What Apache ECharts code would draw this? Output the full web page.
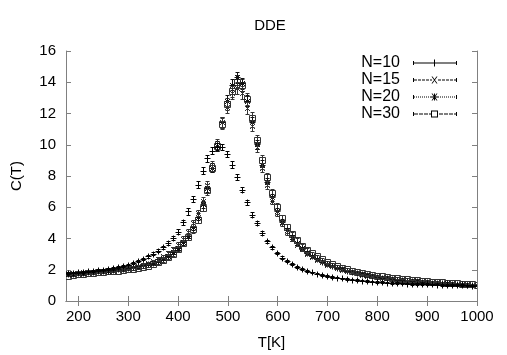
<!DOCTYPE html>
<html>
<head>
<meta charset="utf-8">
<title>DDE</title>
<script src="https://cdn.jsdelivr.net/npm/echarts@6/dist/echarts.min.js"></script>
<style>html,body{margin:0;padding:0;background:#fff;}</style>
</head>
<body>
<div id="main" style="width:507px;height:355px;"></div>
<script>
// temperatures (K), every 10 K
var temps = [180,190,200,210,220,230,240,250,260,270,280,290,300,310,320,330,340,350,360,370,
  380,390,400,410,420,430,440,450,460,470,480,490,500,510,520,530,540,550,560,570,
  580,590,600,610,620,630,640,650,660,670,680,690,700,710,720,730,740,750,760,770,
  780,790,800,810,820,830,840,850,860,870,880,890,900,910,920,930,940,950,960,970,
  980,990,1000];

// specific heat C(T) per system size
var c10 = [1.75,1.78,1.8,1.83,1.86,1.9,1.94,1.98,2.03,2.08,2.14,2.21,2.3,2.4,2.52,2.66,2.82,3.0,3.2,3.42,
  3.68,4.0,4.4,5.0,5.7,6.5,7.4,8.3,9.1,9.6,9.85,9.8,9.4,8.7,7.9,7.1,6.3,5.5,4.95,4.3,
  3.8,3.4,3.05,2.75,2.52,2.32,2.16,2.02,1.9,1.8,1.72,1.65,1.58,1.52,1.47,1.42,1.38,1.34,1.3,1.27,
  1.24,1.21,1.19,1.17,1.15,1.13,1.11,1.1,1.08,1.07,1.06,1.05,1.04,1.03,1.02,1.01,1.0,0.99,0.98,0.98,
  0.97,0.96,0.95];
var c15 = [1.75,1.77,1.79,1.81,1.83,1.85,1.88,1.9,1.93,1.96,2.0,2.04,2.09,2.15,2.22,2.3,2.4,2.52,2.66,2.83,
  3.03,3.28,3.58,3.95,4.4,4.95,5.6,6.4,7.4,8.6,10.0,11.4,12.4,13.3,13.6,13.3,12.3,11.2,9.8,8.5,
  7.4,6.4,5.6,4.95,4.4,3.95,3.58,3.27,3.0,2.78,2.6,2.44,2.3,2.18,2.07,1.97,1.88,1.8,1.73,1.66,
  1.6,1.55,1.5,1.45,1.41,1.37,1.33,1.3,1.27,1.24,1.21,1.19,1.16,1.14,1.12,1.1,1.08,1.06,1.05,1.03,
  1.02,1.0,0.99];
var c20 = [1.7,1.72,1.75,1.78,1.8,1.83,1.86,1.89,1.92,1.95,1.99,2.03,2.07,2.12,2.18,2.25,2.33,2.43,2.55,2.7,
  2.88,3.1,3.38,3.72,4.15,4.7,5.35,6.15,7.2,8.5,9.9,11.4,12.8,13.8,14.3,13.9,12.8,11.4,10.0,8.7,
  7.6,6.6,5.75,5.05,4.5,4.05,3.65,3.33,3.06,2.83,2.64,2.47,2.33,2.2,2.09,1.99,1.9,1.82,1.75,1.68,
  1.62,1.56,1.51,1.46,1.42,1.38,1.34,1.31,1.28,1.25,1.22,1.19,1.17,1.15,1.13,1.11,1.09,1.07,1.05,1.04,
  1.02,1.01,0.99];
var c30 = [1.6,1.64,1.68,1.71,1.74,1.77,1.8,1.83,1.86,1.88,1.91,1.95,1.99,2.04,2.09,2.16,2.24,2.33,2.44,2.58,
  2.76,3.0,3.3,3.65,4.05,4.55,5.15,5.95,7.05,8.5,9.9,11.3,12.6,13.4,14.0,13.8,12.9,11.7,10.3,9.0,
  7.9,6.9,6.0,5.3,4.7,4.25,3.85,3.52,3.25,3.02,2.82,2.64,2.48,2.34,2.22,2.11,2.01,1.92,1.84,1.77,
  1.71,1.65,1.6,1.55,1.51,1.47,1.43,1.4,1.36,1.33,1.3,1.27,1.24,1.21,1.19,1.16,1.14,1.12,1.09,1.07,
  1.05,1.03,1.01];

// error bars
var e10 = [0.05,0.05,0.05,0.05,0.05,0.05,0.05,0.05,0.05,0.05,0.05,0.05,0.05,0.05,0.06,0.06,0.07,0.08,0.08,0.1,
  0.1,0.12,0.15,0.18,0.2,0.2,0.22,0.22,0.22,0.2,0.2,0.2,0.2,0.2,0.18,0.18,0.16,0.15,0.14,0.12,
  0.1,0.1,0.08,0.07,0.06,0.06,0.05,0.05,0.05,0.05,0.05,0.05,0.05,0.05,0.05,0.05,0.05,0.05,0.05,0.05,
  0.05,0.05,0.05,0.05,0.05,0.05,0.05,0.05,0.05,0.05,0.05,0.05,0.05,0.05,0.05,0.05,0.05,0.05,0.05,0.05,
  0.05,0.05,0.05];
var e15 = [0.05,0.05,0.05,0.05,0.05,0.05,0.05,0.05,0.05,0.05,0.05,0.05,0.06,0.06,0.07,0.07,0.08,0.08,0.1,0.1,
  0.12,0.12,0.14,0.15,0.18,0.2,0.22,0.25,0.28,0.3,0.32,0.35,0.38,0.4,0.4,0.4,0.38,0.35,0.32,0.3,
  0.28,0.25,0.22,0.2,0.18,0.15,0.12,0.1,0.1,0.08,0.08,0.07,0.07,0.06,0.06,0.05,0.05,0.05,0.05,0.05,
  0.05,0.05,0.05,0.05,0.05,0.05,0.05,0.05,0.05,0.05,0.05,0.05,0.05,0.05,0.05,0.05,0.05,0.05,0.05,0.05,
  0.05,0.05,0.05];
var e20 = [0.05,0.05,0.05,0.05,0.05,0.05,0.05,0.05,0.05,0.05,0.05,0.05,0.06,0.06,0.07,0.07,0.08,0.08,0.1,0.1,
  0.12,0.12,0.14,0.15,0.18,0.2,0.22,0.25,0.28,0.3,0.32,0.35,0.35,0.35,0.35,0.35,0.35,0.32,0.3,0.28,
  0.25,0.22,0.2,0.18,0.15,0.12,0.1,0.1,0.08,0.08,0.07,0.07,0.06,0.06,0.05,0.05,0.05,0.05,0.05,0.05,
  0.05,0.05,0.05,0.05,0.05,0.05,0.05,0.05,0.05,0.05,0.05,0.05,0.05,0.05,0.05,0.05,0.05,0.05,0.05,0.05,
  0.05,0.05,0.05];
var e30 = [0.05,0.05,0.05,0.05,0.05,0.05,0.05,0.05,0.05,0.05,0.05,0.05,0.06,0.06,0.07,0.07,0.08,0.08,0.1,0.1,
  0.12,0.12,0.14,0.15,0.18,0.2,0.22,0.25,0.28,0.3,0.32,0.35,0.38,0.4,0.42,0.4,0.38,0.35,0.32,0.3,
  0.28,0.25,0.22,0.2,0.18,0.15,0.12,0.1,0.1,0.08,0.08,0.07,0.07,0.06,0.06,0.05,0.05,0.05,0.05,0.05,
  0.05,0.05,0.05,0.05,0.05,0.05,0.05,0.05,0.05,0.05,0.05,0.05,0.05,0.05,0.05,0.05,0.05,0.05,0.05,0.05,
  0.05,0.05,0.05];

var names = ['N=10', 'N=15', 'N=20', 'N=30'];
var xTicks = [200, 300, 400, 500, 600, 700, 800, 900, 1000];

var FONT = '"Liberation Sans", Arial, Helvetica, sans-serif';
var GREY = '#808080';

var myChart = echarts.init(document.getElementById('main'));

function rows(c, e) {
  return temps.map(function (t, i) { return [t, c[i], e[i]]; });
}

// snap to pixel centre so 1px strokes stay sharp
function px(v) { return Math.round(v - 0.5) + 0.5; }

// marker glyphs drawn as short lines (gnuplot style)
function glyph(kind, x, y, col) {
  var s = { stroke: col, lineWidth: 1, fill: null };
  var out = [];
  function ln(x1, y1, x2, y2) {
    out.push({ type: 'line', shape: { x1: x1, y1: y1, x2: x2, y2: y2 }, style: s });
  }
  if (kind === 'plus' || kind === 'star') { ln(x - 3, y, x + 3, y); ln(x, y - 3, x, y + 3); }
  if (kind === 'cross' || kind === 'star') { ln(x - 2.5, y - 2.5, x + 2.5, y + 2.5); ln(x - 2.5, y + 2.5, x + 2.5, y - 2.5); }
  if (kind === 'square') {
    out.push({ type: 'rect', shape: { x: x - 3, y: y - 3, width: 6, height: 6 }, style: s });
  }
  return out;
}

function makeRender(kind, col) {
  return function (params, api) {
    var t = api.value(0), c = api.value(1), e = api.value(2);
    var p = api.coord([t, c]);
    var hi = api.coord([t, c + e]);
    var lo = api.coord([t, c - e]);
    var x = px(p[0]), y = px(p[1]), yh = px(hi[1]), yl = px(lo[1]);
    var s = { stroke: col, lineWidth: 1 };
    var kids = [
      { type: 'line', shape: { x1: x, y1: yh, x2: x, y2: yl }, style: s },
      { type: 'line', shape: { x1: x - 2, y1: yh, x2: x + 2, y2: yh }, style: s },
      { type: 'line', shape: { x1: x - 2, y1: yl, x2: x + 2, y2: yl }, style: s }
    ];
    return { type: 'group', children: kids.concat(glyph(kind, x, y, col)) };
  };
}

// legend sample: line with end caps and marker in the middle, built from thin rects
function dashes(x0, x1, d, g) {
  var p = '';
  for (var x = x0; x < x1; x += d + g) {
    var xe = Math.min(x + d, x1);
    p += 'M' + x + ' 3H' + xe + 'V4H' + x + 'Z';
  }
  return p;
}
var caps = 'M0 1.5H1V5.5H0ZM43 1.5H44V5.5H43Z';
var mPlus = 'M21 0H22V7H21ZM18 3H25V4H18Z';
var mCross = 'M18.5 0L19.5 0L24.5 7L23.5 7ZM23.5 0L24.5 0L19.5 7L18.5 7Z';
var mSquare = 'M18 0H25V7H18ZM19 1V6H24V1Z';
var icons = [
  'path://' + caps + dashes(1, 43, 42, 0) + mPlus,
  'path://' + caps + dashes(1, 19, 3, 1) + dashes(25, 43, 3, 1) + mCross,
  'path://' + caps + dashes(1, 19, 1, 1) + dashes(25, 43, 1, 1) + mPlus + mCross,
  'path://' + caps + dashes(1, 18, 4, 1) + dashes(26, 43, 4, 1) + mSquare
];
var kinds = ['plus', 'cross', 'star', 'square'];
var inks = ['#000', '#333', '#111', '#333'];
var sets = [rows(c10, e10), rows(c15, e15), rows(c20, e20), rows(c30, e30)];

var series = names.map(function (n, i) {
  return {
    name: n,
    type: 'custom',
    xAxisIndex: 0,
    yAxisIndex: 0,
    renderItem: makeRender(kinds[i], inks[i]),
    encode: { x: 0, y: 1 },
    itemStyle: { color: '#000' },
    data: sets[i],
    clip: true,
    z: 10 - i
  };
});

var axisCommon = {
  type: 'value',
  axisLine: { show: true, lineStyle: { color: GREY, width: 1 } },
  splitLine: { show: false },
  axisTick: { show: true, inside: true, length: 5, lineStyle: { color: GREY } }
};

myChart.setOption({
  animation: false,
  backgroundColor: '#fff',
  title: {
    text: 'DDE',
    left: 265,
    textAlign: 'center',
    top: 13,
    textStyle: { fontFamily: FONT, fontSize: 15, fontWeight: 'normal', color: '#000' }
  },
  legend: {
    orient: 'vertical',
    right: 50,
    top: 55,
    padding: 0,
    align: 'right',
    itemWidth: 44,
    itemHeight: 7,
    itemGap: 1,
    selectedMode: false,
    textStyle: { fontFamily: FONT, fontSize: 16, color: '#000', lineHeight: 15, padding: [0, 8, 0, 0] },
    data: names.map(function (n, i) {
      return { name: n, icon: icons[i], itemStyle: { color: '#000', borderWidth: 0 } };
    })
  },
  grid: { left: 66, right: 30, top: 51, bottom: 52 },
  xAxis: [
    Object.assign({}, axisCommon, {
      position: 'bottom', min: 175, max: 1000,
      name: 'T[K]', nameLocation: 'middle', nameGap: 34,
      nameTextStyle: { fontFamily: FONT, fontSize: 15, color: '#000' },
      axisTick: { show: true, inside: true, length: 5, lineStyle: { color: GREY }, customValues: xTicks },
      axisLabel: {
        customValues: xTicks, margin: 8, fontFamily: FONT, fontSize: 15, color: '#000',
        formatter: function (v) { return String(v); }
      }
    }),
    Object.assign({}, axisCommon, {
      position: 'top', min: 175, max: 1000,
      axisTick: { show: true, inside: true, length: 5, lineStyle: { color: GREY }, customValues: xTicks },
      axisLabel: { show: false }
    })
  ],
  yAxis: [
    Object.assign({}, axisCommon, {
      position: 'left', min: 0, max: 16, interval: 2,
      name: 'C(T)', nameLocation: 'middle', nameGap: 42, nameRotate: 90,
      nameTextStyle: { fontFamily: FONT, fontSize: 15, color: '#000' },
      axisLabel: { margin: 10, fontFamily: FONT, fontSize: 15, color: '#000' }
    }),
    Object.assign({}, axisCommon, {
      position: 'right', min: 0, max: 16, interval: 2,
      axisLabel: { show: false }
    })
  ],
  series: series
});
</script>
</body>
</html>
